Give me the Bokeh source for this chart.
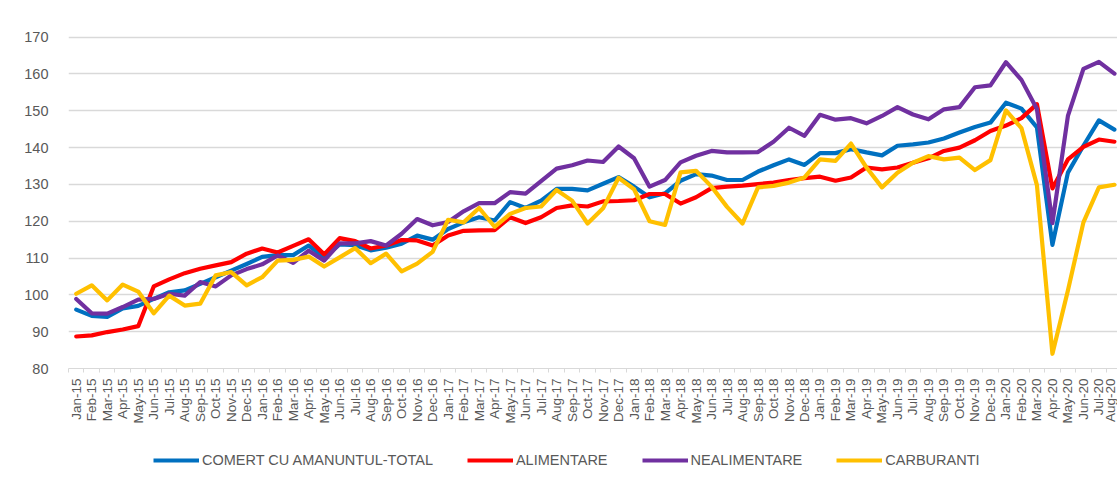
import numpy as np
from bokeh.plotting import figure
from bokeh.layouts import column
from bokeh.models import FixedTicker, Legend, LegendItem, Range1d
from bokeh.embed import file_html
from bokeh.resources import INLINE

months = ["Jan", "Feb", "Mar", "Apr", "May", "Jun", "Jul", "Aug", "Sep", "Oct", "Nov", "Dec"]
years = ["15", "16", "17", "18", "19", "20"]
labels = [f"{m}-{y}" for y in years for m in months][:68]

total = [96.0, 94.3, 94.0, 96.3, 97.0, 98.9, 100.7, 101.2, 103.0, 104.8, 106.6, 108.4,
         110.3, 110.8, 110.8, 113.4, 110.2, 113.7, 113.5, 112.1, 112.8, 113.9, 116.1, 115.0,
         117.9, 119.7, 121.1, 120.2, 125.2, 123.6, 125.6, 128.8, 128.8, 128.4, 130.2, 132.0,
         129.4, 126.5, 127.6, 131.0, 132.8, 132.4, 131.2, 131.2, 133.5, 135.2, 136.8, 135.3,
         138.5, 138.5, 139.6, 138.7, 137.9, 140.5, 140.9, 141.4, 142.5, 144.1, 145.6, 146.8,
         152.2, 150.6, 145.5, 113.6, 133.2, 140.5, 147.4, 144.9]

alimentare = [88.7, 89.0, 89.9, 90.6, 91.5, 102.3, 104.2, 105.9, 107.1, 108.0, 108.9, 111.2,
              112.6, 111.5, 113.3, 115.1, 111.0, 115.4, 114.6, 112.6, 113.4, 114.9, 114.8, 113.4,
              116.1, 117.4, 117.5, 117.6, 121.1, 119.5, 121.1, 123.6, 124.3, 124.0, 125.4, 125.5,
              125.7, 127.4, 127.4, 124.8, 126.5, 129.0, 129.4, 129.7, 130.1, 130.5, 131.2, 131.7,
              132.1, 131.0, 131.9, 134.6, 134.1, 134.6, 135.9, 137.1, 139.1, 140.0, 142.0, 144.5,
              146.0, 148.0, 151.8, 128.9, 136.8, 140.2, 142.2, 141.6]

nealimentare = [98.9, 95.0, 94.9, 96.7, 98.7, 98.9, 100.3, 99.8, 103.5, 102.3, 105.3, 107.0,
                108.3, 110.7, 108.7, 112.0, 109.3, 114.0, 114.0, 114.6, 113.4, 116.6, 120.6, 118.9,
                119.8, 122.7, 124.9, 124.9, 127.9, 127.5, 130.9, 134.3, 135.2, 136.5, 136.1, 140.3,
                137.1, 129.4, 131.2, 136.0, 137.8, 139.1, 138.7, 138.7, 138.8, 141.6, 145.4, 143.2,
                148.9, 147.6, 148.0, 146.6, 148.6, 151.0, 149.0, 147.7, 150.4, 151.0, 156.4, 156.9,
                163.2, 158.4, 150.5, 119.5, 148.6, 161.4, 163.3, 160.1]

carburanti = [100.3, 102.6, 98.5, 102.8, 100.9, 95.0, 99.8, 97.1, 97.6, 105.3, 106.2, 102.6,
              104.8, 109.3, 109.5, 110.4, 107.7, 110.2, 112.7, 108.6, 111.2, 106.4, 108.5, 111.7,
              120.4, 119.7, 123.6, 118.5, 122.0, 123.6, 124.0, 128.5, 125.6, 119.4, 123.5, 131.8,
              128.7, 120.0, 119.0, 133.3, 133.7, 129.4, 123.9, 119.4, 129.2, 129.6, 130.5, 131.9,
              136.8, 136.4, 141.1, 134.6, 129.2, 133.2, 135.9, 137.7, 136.8, 137.3, 133.9, 136.6,
              150.1, 145.3, 129.8, 84.0, 101.2, 119.7, 129.2, 129.9]

series_names = ["COMERT CU AMANUNTUL-TOTAL", "ALIMENTARE", "NEALIMENTARE", "CARBURANTI"]
colors = ["#0070C0", "#FF0000", "#7030A0", "#FFC000"]
y_ticks = [80, 90, 100, 110, 120, 130, 140, 150, 160, 170]

x = list(range(len(labels)))
FONT = "Liberation Sans"
TXT = "#595959"
LW = 4.2

p = figure(width=1117, height=440, output_backend="svg", toolbar_location=None,
           x_range=Range1d(-0.5, 67.2), y_range=Range1d(80, 171),
           min_border_left=68, min_border_right=0, min_border_top=33, min_border_bottom=72)
p.outline_line_color = None
p.background_fill_color = "white"
p.border_fill_color = "white"

for col, data in zip(colors, [total, alimentare, nealimentare, carburanti]):
    p.line(x, data, line_color=col, line_width=LW, line_join="round", line_cap="round")

# x axis
p.xaxis.ticker = FixedTicker(ticks=x, minor_ticks=[i - 0.5 for i in range(len(labels) + 1)])
p.xaxis.major_label_overrides = {i: lab for i, lab in enumerate(labels)}
p.xaxis.major_label_orientation = np.pi / 2
p.xaxis.major_tick_out = 0
p.xaxis.major_tick_in = 0
p.xaxis.minor_tick_out = 4
p.xaxis.minor_tick_in = 0
p.xaxis.minor_tick_line_color = "#D9D9D9"
p.xaxis.axis_line_color = "#D9D9D9"
p.xaxis.major_label_standoff = 6
p.xaxis.major_label_text_font = FONT
p.xaxis.major_label_text_font_size = "13.5px"
p.xaxis.major_label_text_color = TXT

# y axis
p.yaxis.ticker = FixedTicker(ticks=y_ticks)
p.yaxis.axis_line_color = None
p.yaxis.major_tick_line_color = None
p.yaxis.minor_tick_line_color = None
p.yaxis.major_label_standoff = 14
p.yaxis.major_label_text_font = FONT
p.yaxis.major_label_text_font_size = "14.5px"
p.yaxis.major_label_text_color = TXT

p.xgrid.grid_line_color = None
p.ygrid.grid_line_color = "#D9D9D9"
p.ygrid.grid_line_width = 1.3
p.ygrid.ticker = FixedTicker(ticks=y_ticks[1:])

# legend strip below the chart; its key lines are off-range proxies of the series styles
lg = figure(width=1117, height=39, output_backend="svg", toolbar_location=None,
            x_range=Range1d(0, 1), y_range=Range1d(0, 1),
            min_border_left=68, min_border_right=0, min_border_top=0, min_border_bottom=0)
lg.axis.visible = False
lg.grid.visible = False
lg.outline_line_color = None
lg.border_fill_color = "white"
lg.background_fill_color = "white"

items = []
for name, col in zip(series_names, colors):
    r = lg.line(x=[5, 6], y=[5, 6], line_color=col, line_width=LW)
    items.append(LegendItem(label=name, renderers=[r]))

legend = Legend(items=items, orientation="horizontal", location=(85, 9),
                glyph_width=46, glyph_height=20, label_height=20, label_standoff=3,
                spacing=34, padding=0, margin=0,
                border_line_color=None, background_fill_alpha=0,
                label_text_font=FONT, label_text_font_size="14.5px", label_text_color=TXT)
lg.add_layout(legend, "center")

open("out.html", "w").write(file_html(column(p, lg, spacing=0), INLINE))
